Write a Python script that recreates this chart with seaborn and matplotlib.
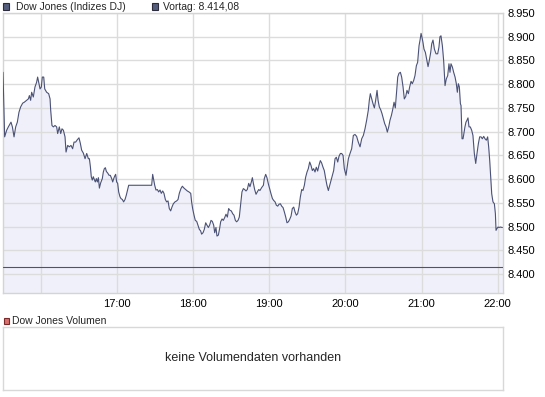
import matplotlib
matplotlib.use('Agg')
import matplotlib.pyplot as plt
from matplotlib.patches import Rectangle
import pandas as pd
import seaborn as sns

sns.set_style('white')
plt.rcParams['font.family'] = ['Liberation Sans', 'DejaVu Sans']

# intraday data: minutes after 15:30 and index points
minutes = [
    0.0, 0.6, 1.3, 2.9, 4.2, 6.3, 7.4, 8.7, 10.0, 11.3, 12.6, 13.9, 15.5, 16.8, 18.7, 20.0,
    20.8, 21.8, 22.6, 23.9, 25.2, 26.5, 27.3, 28.4, 29.2, 30.2, 31.0, 32.1, 32.9, 34.4, 36.0,
    37.1, 37.6, 38.6, 39.7, 41.0, 42.3, 43.1, 44.4, 45.5, 46.5, 47.6, 48.9, 49.7, 51.0, 52.3,
    53.6, 54.9, 56.0, 57.3, 58.6, 59.9, 61.0, 62.0, 63.3, 64.7, 66.0, 67.3,
    68.1, 68.9, 69.6, 70.4, 71.2, 72.0, 72.8, 73.6, 74.4, 75.2, 76.0, 77.0, 78.3, 79.1, 79.9,
    80.7, 81.5, 82.5, 83.6, 84.6, 85.7, 86.5, 87.3, 88.0, 88.8, 89.6, 90.4, 91.2, 92.2, 93.0,
    94.1, 95.1, 96.2, 97.2, 98.3, 99.1, 117.2, 118.0, 118.8, 119.6, 120.6, 121.7, 122.7,
    123.8, 124.8, 125.9, 126.9, 128.0, 129.0, 130.1, 131.1, 132.2, 133.2, 134.3,
    135.6, 136.9, 138.0, 139.0, 140.3, 141.4, 142.7, 144.0, 145.3, 146.6, 148.0, 148.7, 149.5,
    150.6, 151.6, 152.7, 153.7, 154.8, 155.8, 156.6, 157.7, 158.7, 159.8, 160.8, 161.9, 162.9,
    164.0, 165.0, 166.1, 166.9, 167.9, 168.7, 169.8, 170.8, 171.6, 172.7, 173.7, 174.8, 175.8,
    176.9, 177.9, 179.0, 180.0, 181.1, 182.1, 183.2, 184.2, 185.3, 186.3, 187.4, 188.4, 189.5,
    190.5, 191.6, 192.6, 193.7, 194.7, 195.8, 196.6, 197.4, 198.4, 199.5, 200.5, 201.6,
    202.6, 203.9, 205.3, 206.0, 207.1, 208.1, 209.2, 210.2, 211.3, 212.4, 213.4, 214.5, 215.5,
    216.6, 217.6, 218.7, 219.7, 220.8, 221.8, 222.9, 223.9, 225.0, 226.0, 227.1, 228.1, 229.2,
    230.2, 231.3, 232.3, 233.4, 234.4, 235.5, 236.5, 237.6, 238.6, 239.7, 240.7, 241.8, 242.8,
    243.9, 244.9, 246.0, 247.0, 248.1, 249.1, 250.2, 251.2, 252.3, 253.3, 254.4, 255.4, 256.5,
    257.6, 258.6, 259.7, 260.7, 261.8, 262.8, 263.9, 264.9, 266.0, 267.0, 268.1, 269.1, 270.4,
    272.3, 273.6, 274.9, 276.2, 277.5, 278.8, 280.1, 281.5, 282.8, 284.1, 285.4, 286.7, 288.0,
    288.8, 289.6, 290.7, 291.7, 292.8, 293.8, 294.9, 295.7, 296.7, 297.8, 298.8, 299.9, 300.9,
    302.0, 303.0, 304.1, 305.1, 306.2, 307.2, 308.3, 309.3, 309.8, 310.4, 311.2, 312.2, 313.3,
    314.3, 315.4, 316.4, 317.5, 318.5, 319.6, 320.6, 321.7, 322.7, 323.8, 324.8, 325.9, 326.9,
    328.0, 328.8, 329.6, 330.3, 331.1, 331.9, 333.0, 334.0, 335.1, 336.1,
    337.2, 338.0, 339.0, 340.1, 341.4, 342.7, 343.7, 344.5, 345.3, 346.4, 347.4, 348.5, 349.5,
    350.6, 351.6, 352.4, 353.2, 354.3, 355.3, 356.4, 357.4, 358.2, 359.0, 359.8, 360.6, 361.1,
    361.9, 362.7, 363.5, 364.2, 365.0, 365.8, 366.6, 367.4, 368.4, 369.5, 370.5, 371.6, 372.7,
    373.7, 374.8, 375.8, 376.9, 377.9, 379.0, 380.0, 381.1, 382.1, 382.9, 383.7, 384.5, 385.3,
    386.3, 387.4, 388.2, 388.7, 389.5, 390.3, 391.0, 392.1, 393.7,
]
prices = [
    8825, 8759, 8689, 8703, 8710, 8720, 8710, 8689, 8710, 8720, 8741, 8752, 8760, 8762, 8766, 8769,
    8776, 8766, 8783, 8773, 8794, 8804, 8815, 8801, 8790, 8794, 8815, 8815, 8790, 8783, 8780,
    8769, 8745, 8713, 8710, 8713, 8710, 8696, 8710, 8696, 8706, 8703, 8689, 8657, 8671, 8668,
    8671, 8664, 8678, 8678, 8683, 8687, 8675, 8661, 8655, 8643, 8654, 8643,
    8643, 8626, 8605, 8598, 8605, 8599, 8594, 8601, 8594, 8603, 8581, 8592, 8601, 8615, 8622,
    8624, 8616, 8613, 8608, 8608, 8601, 8594, 8601, 8606, 8610, 8594, 8591, 8573, 8563, 8559,
    8557, 8552, 8557, 8566, 8578, 8587, 8587, 8610, 8598, 8587, 8577, 8578, 8573,
    8577, 8570, 8575, 8570, 8557, 8552, 8554, 8538, 8533, 8541, 8548,
    8552, 8554, 8557, 8570, 8580, 8585, 8581, 8578, 8575, 8573, 8570, 8552, 8538,
    8524, 8513, 8511, 8503, 8494, 8491, 8484, 8487, 8494, 8508, 8503, 8498, 8503,
    8513, 8511, 8503, 8487, 8498, 8480, 8482, 8496, 8510, 8516, 8513, 8519, 8526,
    8520, 8538, 8534, 8533, 8527, 8524, 8513, 8510, 8513, 8520, 8548, 8573, 8580,
    8578, 8575, 8578, 8591, 8584, 8594, 8603, 8591, 8578, 8568, 8573, 8578,
    8576, 8582, 8587, 8601, 8610, 8603, 8590, 8580, 8569, 8559, 8555, 8552, 8545,
    8543, 8547, 8548, 8543, 8540, 8531, 8520, 8508, 8510, 8515, 8522, 8538, 8541,
    8531, 8524, 8527, 8541, 8562, 8578, 8576, 8587, 8604, 8615, 8622, 8636, 8629,
    8618, 8622, 8615, 8625, 8617, 8629, 8639, 8634, 8625, 8618, 8601, 8587, 8576,
    8587, 8597, 8608, 8618, 8643, 8646, 8636, 8648, 8654, 8654, 8650, 8622, 8608,
    8643, 8654, 8664, 8692, 8694, 8690, 8678, 8668, 8685, 8692, 8706, 8724, 8745,
    8766, 8780, 8769, 8759, 8750, 8766, 8787, 8766, 8752, 8746, 8738, 8727, 8717,
    8710, 8699, 8710, 8724, 8734, 8746, 8762, 8750, 8766, 8787, 8815, 8823, 8825,
    8815, 8794, 8769, 8774, 8787, 8780, 8794, 8806, 8801, 8808, 8818, 8839, 8846,
    8881, 8893, 8907, 8899, 8888, 8874, 8867, 8853, 8837, 8850,
    8867, 8885, 8893, 8874, 8864, 8864, 8878, 8900, 8902, 8881, 8850, 8797, 8811,
    8818, 8843, 8825, 8843, 8836, 8825, 8815, 8801, 8783, 8801, 8794, 8759, 8755,
    8685, 8685, 8699, 8710, 8720, 8724, 8729, 8710, 8710, 8703, 8692, 8654, 8633,
    8654, 8675, 8689, 8689, 8685, 8690, 8685, 8682, 8689, 8668, 8640, 8605, 8569,
    8552, 8548, 8527, 8492, 8496, 8499, 8498, 8499, 8498,
]
prev_close = 8414.08

hour_ticks = [30, 90, 150, 210, 270, 330, 390]
hour_labels = ['', '17:00', '18:00', '19:00', '20:00', '21:00', '22:00']
price_ticks = list(range(8400, 8951, 50))

df = pd.DataFrame({'minute': minutes, 'price': prices})

line_col = '#4b5275'
fill_col = '#f0f0fb'
grid_col = '#dcdcdc'

W, H = 545, 397
fig = plt.figure(figsize=(W / 100, H / 100), dpi=100)

# price panel
ax = fig.add_axes([3 / W, 1 - 293 / H, 500 / W, 280 / H])
ax.fill_between(df.minute, df.price, 8360, color=fill_col, lw=0, zorder=0.5)
sns.lineplot(data=df, x='minute', y='price', ax=ax, color=line_col, lw=0.8,
             estimator=None, zorder=3)
ax.axhline(prev_close, color=line_col, lw=0.8, zorder=3)

ax.set_xlim(0, 394.2)
ax.set_ylim(8360, 8950)
ax.set_xticks(hour_ticks)
ax.set_xticklabels(hour_labels)
ax.set_yticks(price_ticks)
ax.set_yticklabels([f'{v:,.0f}'.replace(',', '.') for v in price_ticks])
ax.yaxis.tick_right()
ax.tick_params(axis='both', length=0, labelsize=8, colors='#000000')
ax.tick_params(axis='y', pad=3)
ax.tick_params(axis='x', pad=4)
ax.set_xlabel('')
ax.set_ylabel('')
ax.grid(True, color=grid_col, lw=1.0)
ax.set_axisbelow('line')
for sp in ax.spines.values():
    sp.set_color('#d4d4d4')
    sp.set_linewidth(1.0)

# header legend
fig.patches.append(Rectangle((3 / W, 1 - 9.5 / H), 6 / W, 6 / H, transform=fig.transFigure,
                             facecolor='#555d7d', edgecolor='#2b2b3b', lw=0.8))
fig.text(16 / W, 1 - 6.5 / H, 'Dow Jones (Indizes DJ)', fontsize=7.5, va='center')
fig.patches.append(Rectangle((152 / W, 1 - 9.5 / H), 6 / W, 6 / H, transform=fig.transFigure,
                             facecolor='#555d7d', edgecolor='#2b2b3b', lw=0.8))
fig.text(163 / W, 1 - 6.5 / H, 'Vortag: 8.414,08', fontsize=7.5, va='center')

# volume panel
fig.patches.append(Rectangle((3.5 / W, 1 - 323.5 / H), 5.5 / W, 6 / H, transform=fig.transFigure,
                             facecolor='#d9706c', edgecolor='#7a2a2a', lw=0.8))
fig.text(12 / W, 1 - 320.5 / H, 'Dow Jones Volumen', fontsize=7.5, va='center')

ax2 = fig.add_axes([2.5 / W, 1 - 389.5 / H, 500.5 / W, 62.5 / H])
ax2.set_xticks([])
ax2.set_yticks([])
for sp in ax2.spines.values():
    sp.set_color('#d8d8d8')
    sp.set_linewidth(1.0)
ax2.text(0.5, 0.5, 'keine Volumendaten vorhanden', ha='center', va='center',
         fontsize=9, transform=ax2.transAxes)

fig.savefig('out.png', dpi=100)
